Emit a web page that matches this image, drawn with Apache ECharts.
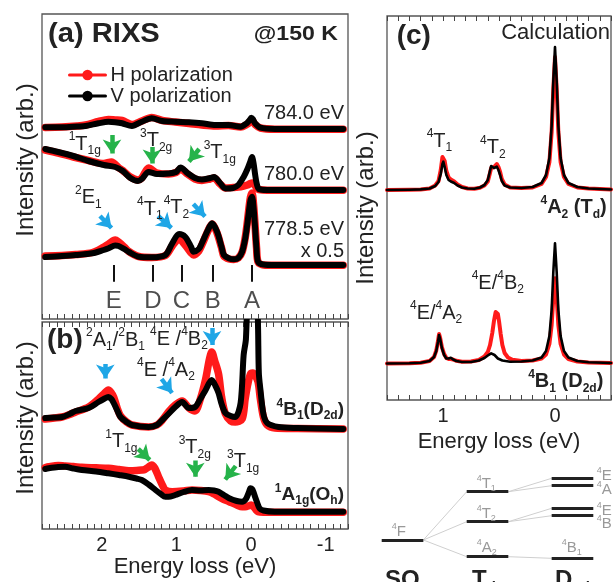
<!DOCTYPE html>
<html><head><meta charset="utf-8">
<script src="https://cdn.jsdelivr.net/npm/echarts@6/dist/echarts.min.js"></script>
<style>html,body{margin:0;padding:0;background:#fff}#c{width:614px;height:582px}</style>
</head><body><div id="c"></div>
<script>
// ================= DATA =================
// Panel (a) RIXS spectra [energy loss (eV), intensity (arb., incl. offset)]
const v784 = [[2.72,191.7],[2.5,191.7],[2.3,192.5],[2.19,193],[2.02,195.7],[1.89,197.3],[1.8,196.8],[1.71,195.7],[1.58,193],[1.45,197.3],[1.32,200.7],[1.18,198],[1.01,197.3],[0.83,196.7],[0.66,195.7],[0.48,194],[0.31,194],[0.15,192.3],[0.07,195.7],[0.03,199],[0.01,201.3],[-0.01,200],[-0.04,195.7],[-0.11,191.3],[-0.3,190],[-0.7,190],[-1.2,190]];
const h784 = [[2.72,191.5],[2.5,192],[2.3,193],[2.19,194],[2.02,197.5],[1.89,199.5],[1.8,199],[1.71,198.5],[1.58,194.5],[1.45,198],[1.32,201.5],[1.18,198.5],[1.01,197],[0.83,195.5],[0.66,194],[0.48,193],[0.31,193.5],[0.15,192],[0.07,194.5],[0.03,197],[0.01,199],[-0.01,198],[-0.04,194.5],[-0.11,191],[-0.3,189.8],[-0.7,189.8],[-1.2,189.8]];
const v780 = [[2.72,170],[2.55,167],[2.35,163],[2.15,158],[1.95,154],[1.8,152],[1.7,148],[1.6,141],[1.5,138],[1.45,140],[1.36,147],[1.25,145],[1.1,145.5],[1.0,147],[0.94,151.5],[0.85,146],[0.75,141],[0.66,139.5],[0.55,141],[0.5,142],[0.42,136],[0.35,130.5],[0.25,131],[0.18,134],[0.11,142],[0.06,150],[0.02,158],[0.0,162],[-0.02,156],[-0.04,145],[-0.06,136],[-0.09,130],[-0.2,129],[-0.6,129],[-1.2,129]];
const h780 = [[2.72,169],[2.55,166],[2.35,162],[2.15,158.5],[1.95,155.5],[1.85,157],[1.75,151],[1.7,148.5],[1.6,142],[1.5,139],[1.45,141],[1.36,151],[1.25,146],[1.1,145],[1.0,146.5],[0.94,150],[0.85,145],[0.75,140],[0.66,138.5],[0.55,140],[0.5,141],[0.42,135],[0.35,131],[0.25,131.5],[0.18,132],[0.11,133],[0.06,134],[0.02,135.5],[0.0,136],[-0.03,135],[-0.06,131],[-0.09,129.5],[-0.2,128.8],[-0.6,128.8],[-1.2,128.8]];
const v778 = [[2.72,62],[2.5,63],[2.32,64],[2.1,65.7],[1.95,69],[1.886,70.7],[1.8,73.5],[1.755,73],[1.68,70],[1.62,67],[1.49,62.3],[1.32,61.7],[1.14,64],[1.05,75.7],[0.96,85],[0.88,82.3],[0.8,72],[0.77,67.3],[0.7,70],[0.66,75.7],[0.58,89],[0.526,95.7],[0.46,87.3],[0.4,72],[0.37,64],[0.3,60.5],[0.24,59.7],[0.18,61],[0.13,67.3],[0.09,80],[0.066,92.3],[0.04,108],[0.02,119],[0.0,122.3],[-0.02,112],[-0.04,92],[-0.06,70],[-0.08,57.3],[-0.15,54.5],[-0.3,54],[-1.2,54]];
const h778 = [[2.72,63],[2.5,63.5],[2.32,64.5],[2.1,66.5],[1.95,72],[1.886,75],[1.8,79],[1.755,77],[1.68,72],[1.62,67.5],[1.49,62.5],[1.32,61.5],[1.14,63.5],[1.05,73],[0.96,80],[0.88,74],[0.8,66],[0.77,64],[0.7,68],[0.66,74],[0.58,88],[0.526,95],[0.46,86],[0.4,71],[0.37,63],[0.3,60],[0.24,59.5],[0.18,61],[0.13,67],[0.09,81],[0.066,94],[0.04,111],[0.02,122],[0.0,126],[-0.02,115],[-0.04,94],[-0.06,71],[-0.08,57],[-0.15,54],[-0.3,53.7],[-1.2,53.7]];
// Panel (b)
const v4B1 = [[2.72,111],[2.6,111.5],[2.5,112],[2.4,115],[2.32,118],[2.15,121],[2.02,127],[1.95,130],[1.89,132],[1.85,130],[1.82,126],[1.77,118],[1.73,112],[1.65,107],[1.58,104],[1.36,102],[1.25,104],[1.18,109],[1.1,115],[1.01,122],[0.92,127],[0.83,121],[0.75,122],[0.68,130],[0.61,139],[0.53,149],[0.48,143],[0.44,136],[0.4,125],[0.35,116],[0.28,113],[0.22,112],[0.15,126],[0.11,174],[0.08,190],[0.05,260],[0.0,330],[-0.05,300],[-0.08,200],[-0.09,156],[-0.11,140],[-0.15,115],[-0.2,106],[-0.35,102],[-0.6,101],[-1.2,100]];
const h4B1 = [[2.72,110],[2.6,111],[2.5,112],[2.4,114.5],[2.32,117],[2.15,122],[2.02,130],[1.95,135],[1.89,139],[1.85,136],[1.82,132],[1.77,120],[1.73,113],[1.65,107],[1.58,104],[1.36,102],[1.25,104],[1.18,109],[1.1,117],[1.01,124],[0.92,128],[0.83,121],[0.75,118],[0.68,130],[0.61,150],[0.56,170],[0.53,177],[0.49,168],[0.44,155],[0.4,132],[0.35,115],[0.28,108],[0.22,107],[0.13,110],[0.09,130],[0.055,145],[0.02,155],[-0.01,156],[-0.04,154],[-0.08,147],[-0.11,130],[-0.15,112],[-0.2,104],[-0.3,101],[-0.6,100.5],[-1.2,100]];
const v1A1g = [[2.72,60],[2.675,60.7],[2.55,62],[2.46,62.3],[2.35,60.5],[2.24,59],[2.05,57.5],[1.89,55.7],[1.75,54],[1.62,52.3],[1.52,50.5],[1.45,49],[1.36,44.5],[1.27,39],[1.2,35],[1.14,32.3],[1.07,32.5],[1.01,34],[0.9,37],[0.79,39],[0.68,38.5],[0.57,39],[0.5,38.5],[0.44,37.3],[0.37,34],[0.3,30.7],[0.2,28],[0.13,27.3],[0.08,30],[0.04,37],[0.02,40.7],[0.0,40],[-0.02,37],[-0.04,32.3],[-0.07,26],[-0.1,20.7],[-0.15,18.5],[-0.3,17.3],[-0.7,17.2],[-1.2,17.2]];
const h1A1g = [[2.72,61.5],[2.675,62.3],[2.55,63.5],[2.46,63],[2.35,62.5],[2.24,61.7],[2.05,61.2],[1.89,60.7],[1.75,59.5],[1.62,58.3],[1.52,58.5],[1.45,59],[1.41,59.5],[1.36,62],[1.32,64],[1.28,61],[1.23,52.3],[1.18,44],[1.14,39],[1.05,37.3],[0.9,38],[0.79,39],[0.68,38.5],[0.57,37.3],[0.5,35],[0.44,32.3],[0.37,29.5],[0.3,27.3],[0.2,24],[0.13,22.3],[0.07,22.5],[0.03,23.5],[0.01,24],[-0.02,22.5],[-0.05,19.5],[-0.08,17.3],[-0.15,16.8],[-0.3,16.8],[-0.7,16.8],[-1.2,16.8]];
// Panel (c) calculation
const vTd = [[1.5,210],[1.3,210.3],[1.2,210.6],[1.12,211.5],[1.07,214],[1.04,218],[1.02,226],[1.005,236],[0.997,238.3],[0.985,233],[0.97,225],[0.95,220],[0.93,218.5],[0.9,217],[0.87,214.5],[0.83,212.5],[0.78,211.5],[0.72,211.2],[0.67,212.5],[0.63,215],[0.6,220],[0.585,227],[0.57,234],[0.56,235],[0.545,232],[0.53,232.5],[0.52,233.3],[0.505,230],[0.49,225],[0.475,219],[0.45,214.5],[0.4,212.5],[0.3,212],[0.2,213],[0.12,217],[0.08,225],[0.05,242],[0.03,274],[0.015,319],[0.0,353],[-0.015,319],[-0.03,274],[-0.05,242],[-0.08,225],[-0.12,217],[-0.2,213],[-0.3,211.5],[-0.5,210.5]];
const hTd = [[1.5,210],[1.3,210.3],[1.2,210.6],[1.12,211.5],[1.07,214.5],[1.04,219],[1.02,230],[1.005,243],[0.997,245],[0.985,239],[0.97,229],[0.95,222.5],[0.93,220.5],[0.9,218.5],[0.87,215.5],[0.83,213],[0.78,211.5],[0.72,211.2],[0.67,212.3],[0.63,214.5],[0.6,218.5],[0.585,225],[0.57,232],[0.56,234],[0.545,233],[0.53,235],[0.52,236],[0.505,233],[0.49,228],[0.475,221],[0.45,215.5],[0.4,212.5],[0.3,212],[0.2,212.5],[0.12,216],[0.08,223],[0.05,238],[0.03,268],[0.015,311],[0.0,343],[-0.015,311],[-0.03,268],[-0.05,238],[-0.08,223],[-0.12,216],[-0.2,212.5],[-0.3,211.5],[-0.5,210.5]];
const vD2d = [[1.5,36.5],[1.3,36.8],[1.2,37.3],[1.12,39],[1.08,43],[1.06,49],[1.045,58],[1.035,65],[1.025,61],[1.01,52],[0.99,45],[0.97,41.5],[0.95,41.5],[0.93,42.3],[0.91,40.5],[0.88,39],[0.83,38],[0.75,38],[0.68,39.5],[0.63,42],[0.6,44.5],[0.57,46.7],[0.54,45],[0.51,41.5],[0.47,39.5],[0.4,38.3],[0.3,38.5],[0.2,39.5],[0.12,42.5],[0.08,49],[0.05,64],[0.03,90],[0.015,128],[0.0,156.7],[-0.015,128],[-0.03,90],[-0.05,64],[-0.08,49],[-0.12,42.5],[-0.2,39],[-0.3,37.7],[-0.5,37]];
const hD2d = [[1.5,36.5],[1.3,36.8],[1.2,37.3],[1.12,39],[1.08,43],[1.06,49.5],[1.045,59],[1.035,66],[1.025,62],[1.01,53],[0.99,46],[0.97,42],[0.95,41],[0.93,41],[0.91,40.5],[0.88,39.2],[0.83,38.3],[0.75,38.5],[0.68,40],[0.63,43.5],[0.6,48],[0.58,55],[0.56,67],[0.545,79],[0.53,88],[0.522,90],[0.51,86],[0.5,79],[0.485,66],[0.47,55],[0.45,47],[0.42,42.5],[0.38,40.3],[0.3,39],[0.2,39.5],[0.12,41.5],[0.08,45.5],[0.05,56],[0.03,75],[0.015,102],[0.0,121.7],[-0.015,102],[-0.03,75],[-0.05,56],[-0.08,45.5],[-0.12,41],[-0.2,38.5],[-0.3,37.5],[-0.5,37]];
// Peak markers A-E (eV)
const letterMarks = ['A','B','C','D','E'];
const letterEnergy = [0, 0.518, 0.93, 1.303, 1.82];
// Arrows [E_tail, I_tail, E_head, I_head]
const arrowsA_green = [[1.842,184,1.842,165.5],[1.316,172,1.316,155.5],[0.695,170,0.83,157.5]];
const arrowsA_blue = [[2.0,103,1.848,91],[1.235,103,1.06,91],[0.772,115,0.618,102.5]];
const arrowsB_blue = [[1.93,165,1.93,150.5],[1.19,150,1.052,136],[0.526,201,0.526,184]];
const arrowsB_green = [[1.497,80,1.345,69],[0.746,68.5,0.746,52.2],[0.215,63,0.352,49.5]];
// Energy-level diagram (relative energies)
const levelsSO3 = [2.0];
const levelsTd = [6.83, 3.83, 0.33];
const levelsD2d = [8.17, 7.43, 5.17, 4.43, 0.17];
const splitLinks = [[0,0],[0,1],[1,2],[1,3],[2,4]];
// Axis tick labels
const ticksB = [2, 1, 0, -1];
const ticksC = [1, 0];

// ================= STYLE / BUILD =================
const FF = "'Liberation Sans', Arial, Helvetica, sans-serif";
const RED = '#ff1a1a', BLK = '#000000', BLUE = '#1fa6e6', GREEN = '#26b34a', TXT = '#222';
const chart = echarts.init(document.getElementById('c'), null, {renderer: 'canvas'});

function rich(size, color, weight) {
  const s = Math.round(size * 0.62);
  const base = {fontFamily: FF, fontWeight: weight, fill: color, color: color};
  return {
    t: Object.assign({fontSize: size, lineHeight: Math.round(size * 1.28)}, base),
    p: Object.assign({fontSize: s, lineHeight: s, verticalAlign: 'top'}, base),
    b: Object.assign({fontSize: s, lineHeight: s, verticalAlign: 'bottom'}, base)
  };
}
function T(x, y, text, o) {
  o = o || {};
  const size = o.size || 20, color = o.color || TXT, weight = o.weight || 'normal', al = o.align || 'left';
  return {type: 'text', x: x, y: y, rotation: o.rot || 0, scaleX: o.sx || 1, z: 100, silent: true,
    style: {text: text, rich: rich(size, color, weight), fill: color, fontSize: size, fontFamily: FF, fontWeight: weight,
      align: al, textAlign: al, verticalAlign: 'middle', textVerticalAlign: 'middle'}};
}
function curve(name, data, xi, yi, color, width, smooth) {
  return {type: 'line', name: name, data: data, xAxisIndex: xi, yAxisIndex: yi, symbol: 'circle', symbolSize: 9,
    showSymbol: false, smooth: smooth, lineStyle: {color: color, width: width, cap: 'round', join: 'round'},
    itemStyle: {color: color}, silent: true, z: color === RED ? 2 : 3};
}
function arrows(list, xi, yi, color) {
  return {type: 'lines', coordinateSystem: 'cartesian2d', xAxisIndex: xi, yAxisIndex: yi, silent: true, z: 6,
    symbol: ['none', 'arrow'], symbolSize: 14, lineStyle: {color: color, width: 4.5, opacity: 1}, itemStyle: {color: color},
    data: list.map(a => ({coords: [[a[0], a[1]], [a[2], a[3]]]}))};
}
const intLabel = list => (v => list.some(t => Math.abs(v - t) < 1e-6) ? String(Math.round(v)) : '');
function tickAxis(grid, min, max, pos, labels, name) {
  return {gridIndex: grid, type: 'value', min: min, max: max, interval: 0.1, inverse: true, position: pos,
    axisLine: {show: false}, splitLine: {show: false},
    axisTick: {show: true, inside: true, length: 5, lineStyle: {color: '#444', width: 1}},
    axisLabel: labels ? {show: true, formatter: intLabel(labels), fontSize: 20, color: TXT, fontFamily: FF, margin: 6} : {show: false},
    name: name || '', nameLocation: 'middle', nameGap: 27, nameTextStyle: {fontSize: 22, color: TXT, fontFamily: FF}};
}
const hidden = (grid, min, max, inv) => ({gridIndex: grid, type: 'value', min: min, max: max, inverse: inv, show: false});
const yAx = (grid, max) => ({gridIndex: grid, type: 'value', min: 0, max: max, show: false});

// Diagram lines
const LW = 0.245;
const levelLines = [];
levelsSO3.forEach(e => levelLines.push({coords: [[-LW, e], [LW, e]]}));
levelsTd.forEach(e => levelLines.push({coords: [[1 - LW, e], [1 + LW, e]]}));
levelsD2d.forEach(e => levelLines.push({coords: [[2 - LW, e], [2 + LW, e]]}));
const linkLines = [];
levelsTd.forEach(e => linkLines.push({coords: [[LW, levelsSO3[0]], [1 - LW, e]]}));
splitLinks.forEach(l => linkLines.push({coords: [[1 + LW, levelsTd[l[0]]], [2 - LW, levelsD2d[l[1]]]]}));

const gridStyle = {show: true, borderColor: '#555', borderWidth: 1.3, backgroundColor: 'transparent'};
const option = {
  animation: false,
  textStyle: {fontFamily: FF},
  grid: [
    Object.assign({left: 42, top: 14, width: 306, height: 305}, gridStyle),
    Object.assign({left: 42, top: 322, width: 306, height: 207}, gridStyle),
    Object.assign({left: 387, top: 16, width: 226, height: 384}, gridStyle),
    {left: 381.7, top: 470, width: 211.6, height: 90, show: false}
  ],
  xAxis: [
    hidden(0, -1.263, 2.763, true),
    tickAxis(0, -1.3, 2.8, 'bottom', null),
    hidden(1, -1.263, 2.763, true),
    tickAxis(1, -1.3, 2.8, 'bottom', ticksB, 'Energy loss (eV)'),
    tickAxis(1, -1.3, 2.8, 'top', null),
    tickAxis(2, -0.5, 1.5, 'bottom', ticksC, 'Energy loss (eV)'),
    tickAxis(2, -0.5, 1.5, 'top', null),
    hidden(3, -LW, 2 + LW, false)
  ],
  yAxis: [yAx(0, 305), yAx(1, 207), yAx(2, 384), yAx(3, 9)],
  legend: {data: ['H polarization', 'V polarization'], orient: 'vertical', left: 63, top: 60, itemWidth: 36, itemHeight: 13,
    itemGap: 1, selectedMode: false, textStyle: {fontSize: 20, color: TXT, fontFamily: FF}, lineStyle: {width: 3}},
  series: [
    curve('H polarization', h784, 0, 0, RED, 7.5, 0.3), curve('V polarization', v784, 0, 0, BLK, 6, 0.3),
    curve('H polarization', h780, 0, 0, RED, 7.5, 0.3), curve('V polarization', v780, 0, 0, BLK, 6, 0.3),
    curve('H polarization', h778, 0, 0, RED, 7.5, 0.3), curve('V polarization', v778, 0, 0, BLK, 6, 0.3),
    curve('H polarization', h4B1, 2, 1, RED, 7.5, 0.3), curve('V polarization', v4B1, 2, 1, BLK, 6, 0.3),
    curve('H polarization', h1A1g, 2, 1, RED, 7.5, 0.3), curve('V polarization', v1A1g, 2, 1, BLK, 6, 0.3),
    curve('H calc', hTd, 5, 2, RED, 4, false), curve('V calc', vTd, 5, 2, BLK, 2.6, false),
    curve('H calc', hD2d, 5, 2, RED, 4, false), curve('V calc', vD2d, 5, 2, BLK, 2.6, false),
    arrows(arrowsA_green, 0, 0, GREEN), arrows(arrowsA_blue, 0, 0, BLUE),
    arrows(arrowsB_blue, 2, 1, BLUE), arrows(arrowsB_green, 2, 1, GREEN),
    {type: 'lines', coordinateSystem: 'cartesian2d', xAxisIndex: 0, yAxisIndex: 0, silent: true, z: 5,
      lineStyle: {color: '#111', width: 2, opacity: 1}, data: letterEnergy.map(e => ({coords: [[e, 37.3], [e, 54]]}))},
    {type: 'scatter', xAxisIndex: 0, yAxisIndex: 0, silent: true, symbolSize: 0.1, itemStyle: {color: 'transparent'},
      label: {show: true, position: 'inside', fontSize: 24, color: TXT, fontFamily: FF},
      data: letterEnergy.map((e, i) => ({value: [e, 18], label: {formatter: letterMarks[i]}}))},
    {type: 'lines', coordinateSystem: 'cartesian2d', xAxisIndex: 7, yAxisIndex: 3, silent: true, z: 3,
      lineStyle: {color: '#cfcfcf', width: 1, opacity: 1}, data: linkLines},
    {type: 'lines', coordinateSystem: 'cartesian2d', xAxisIndex: 7, yAxisIndex: 3, silent: true, z: 4,
      lineStyle: {color: '#222', width: 3, opacity: 1}, data: levelLines}
  ],
  graphic: {elements: [
    T(48, 35, '{t|(a) RIXS}', {size: 27, weight: 'bold', sx: 1.08}),
    T(338, 34, '{t|@150 K}', {size: 21, weight: 'bold', align: 'right', sx: 1.1}),
    T(344, 113, '{t|784.0 eV}', {align: 'right'}),
    T(344, 174, '{t|780.0 eV}', {align: 'right'}),
    T(344, 229, '{t|778.5 eV}', {align: 'right'}),
    T(344, 251, '{t|x 0.5}', {align: 'right'}),
    T(68.7, 144, '{p|1}{t|T}{b|1g}'),
    T(140, 140.7, '{p|3}{t|T}{b|2g}'),
    T(203.7, 152.5, '{p|3}{t|T}{b|1g}'),
    T(75, 197.5, '{p|2}{t|E}{b|1}'),
    T(137, 209, '{p|4}{t|T}{b|1}'),
    T(163.7, 207.5, '{p|4}{t|T}{b|2}'),
    T(26, 160, '{t|Intensity (arb.)}', {size: 24, rot: Math.PI / 2, align: 'center'}),
    T(47, 340, '{t|(b)}', {size: 28, weight: 'bold'}),
    T(86, 340, '{p|2}{t|A}{b|1}{t|/}{p|2}{t|B}{b|1}'),
    T(150, 339, '{p|4}{t|E /}{p|4}{t|B}{b|2}'),
    T(137, 370, '{p|4}{t|E /}{p|4}{t|A}{b|2}'),
    T(344, 410, '{p|4}{t|B}{b|1}{t|(D}{b|2d}{t|)}', {size: 19, weight: 'bold', align: 'right'}),
    T(105.3, 441.5, '{p|1}{t|T}{b|1g}'),
    T(178.7, 447.5, '{p|3}{t|T}{b|2g}'),
    T(227, 461.5, '{p|3}{t|T}{b|1g}'),
    T(344, 495, '{p|1}{t|A}{b|1g}{t|(O}{b|h}{t|)}', {size: 19, weight: 'bold', align: 'right'}),
    T(26, 418, '{t|Intensity (arb.)}', {size: 24, rot: Math.PI / 2, align: 'center'}),
    T(396.7, 36, '{t|(c)}', {size: 28, weight: 'bold'}),
    T(610, 33, '{t|Calculation}', {size: 22, align: 'right'}),
    T(426.7, 141, '{p|4}{t|T}{b|1}'),
    T(480, 147.5, '{p|4}{t|T}{b|2}'),
    T(606.7, 207.5, '{p|4}{t|A}{b|2}{t| (T}{b|d}{t|)}', {weight: 'bold', align: 'right'}),
    T(471.7, 283, '{p|4}{t|E/}{p|4}{t|B}{b|2}'),
    T(410, 313, '{p|4}{t|E/}{p|4}{t|A}{b|2}'),
    T(603.3, 381.5, '{p|4}{t|B}{b|1}{t| (D}{b|2d}{t|)}', {weight: 'bold', align: 'right'}),
    T(366, 208, '{t|Intensity (arb.)}', {size: 24, rot: Math.PI / 2, align: 'center'}),
    T(391.7, 532, '{p|4}{t|F}', {size: 15, color: '#999'}),
    T(476.7, 484, '{p|4}{t|T}{b|1}', {size: 15, color: '#999'}),
    T(476.7, 514, '{p|4}{t|T}{b|2}', {size: 15, color: '#999'}),
    T(476.7, 548, '{p|4}{t|A}{b|2}', {size: 15, color: '#999'}),
    T(561.7, 548, '{p|4}{t|B}{b|1}', {size: 15, color: '#999'}),
    T(596.7, 476, '{p|4}{t|E}', {size: 15, color: '#999'}),
    T(596.7, 490, '{p|4}{t|A}', {size: 15, color: '#999'}),
    T(596.7, 511, '{p|4}{t|E}', {size: 15, color: '#999'}),
    T(596.7, 524, '{p|4}{t|B}', {size: 15, color: '#999'}),
    T(385, 580, '{t|SO}{b|3}', {size: 24, weight: 'bold'}),
    T(472, 580, '{t|T}{b|d}', {size: 24, weight: 'bold'}),
    T(555, 580, '{t|D}{b|2d}', {size: 24, weight: 'bold'})
  ]}
};
chart.setOption(option);
</script></body></html>
